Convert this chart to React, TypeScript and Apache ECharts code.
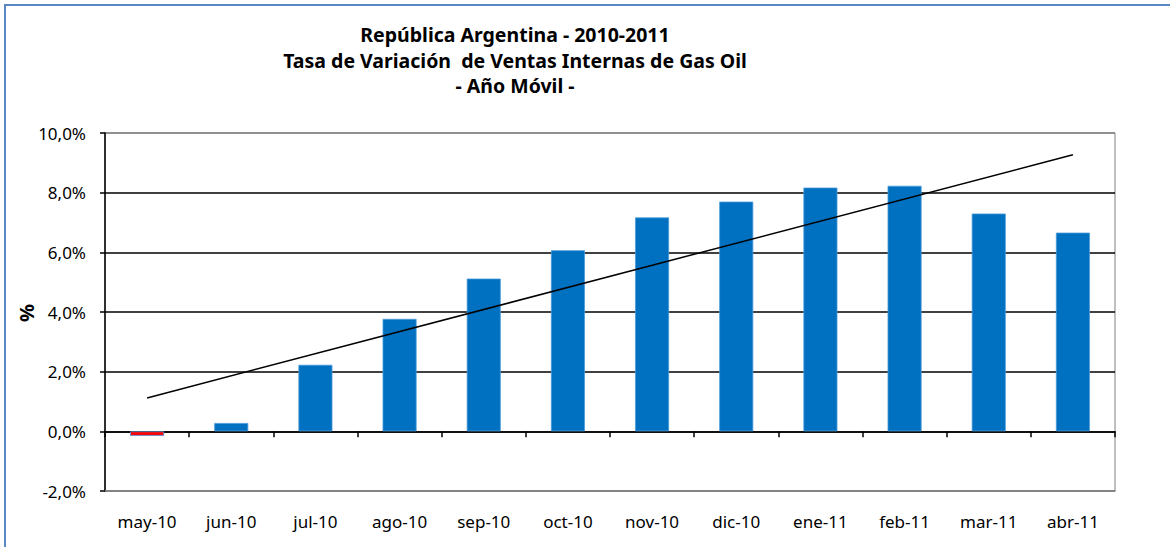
import React, { useEffect, useRef } from "react";
import * as echarts from "echarts";

const categories = ["may-10", "jun-10", "jul-10", "ago-10", "sep-10", "oct-10", "nov-10", "dic-10", "ene-11", "feb-11", "mar-11", "abr-11"];
const values = [-0.15, 0.28, 2.23, 3.77, 5.12, 6.07, 7.17, 7.7, 8.17, 8.23, 7.3, 6.66];
const trendPoints: [number, number][] = [[0, 1.12], [11, 9.27]];
const titleLines = ["República Argentina - 2010-2011", "Tasa de Variación  de Ventas Internas de Gas Oil", "- Año Móvil -"];
const yAxisName = "%";

const FONT = "Noto Sans";

export default function App() {
  const ref = useRef<HTMLDivElement>(null);
  useEffect(() => {
    if (!ref.current) return;
    const chart = echarts.init(ref.current, undefined, { renderer: "svg" });
    chart.setOption({
      animation: false,
      backgroundColor: "#ffffff",
      title: {
        text: titleLines.join("\n"),
        left: 510,
        top: 17,
        textAlign: "center",
        textStyle: { fontFamily: FONT, fontSize: 19.5, fontWeight: "bold", color: "#000", lineHeight: 25.5 },
      },
      graphic: [
        { type: "line", shape: { x1: 4, y1: 5, x2: 1170, y2: 5 }, style: { stroke: "#5B87C5", lineWidth: 2 } },
        { type: "line", shape: { x1: 5, y1: 4, x2: 5, y2: 547 }, style: { stroke: "#5B87C5", lineWidth: 2 } },
        {
          type: "text",
          x: 26,
          y: 313,
          rotation: Math.PI / 2,
          style: { text: yAxisName, fontFamily: FONT, fontSize: 20, fontWeight: "bold", fill: "#000", align: "center", verticalAlign: "middle" },
        },
      ],
      grid: { left: 105, right: 55, top: 133, bottom: 56, show: true, borderColor: "#808080", borderWidth: 1, backgroundColor: "transparent" },
      xAxis: [
        {
          type: "category",
          data: categories,
          position: "bottom",
          axisLine: { show: true, onZero: false, lineStyle: { color: "#808080", width: 1.5 } },
          axisTick: { show: false },
          axisLabel: { color: "#000", fontFamily: FONT, fontSize: 17, margin: 22 },
        },
        {
          type: "category",
          data: categories,
          position: "bottom",
          axisLine: { show: true, onZero: true, lineStyle: { color: "#000", width: 1.5 } },
          axisTick: { show: true, inside: false, length: 6, lineStyle: { color: "#000", width: 1.5 } },
          axisLabel: { show: false },
        },
      ],
      yAxis: {
        type: "value",
        min: -2,
        max: 10,
        interval: 2,
        axisLine: { show: true, lineStyle: { color: "#000", width: 1.5 } },
        axisTick: { show: true, length: 5, lineStyle: { color: "#000", width: 1.5 } },
        axisLabel: {
          color: "#000",
          fontFamily: FONT,
          fontSize: 17,
          margin: 19,
          formatter: (v: number) => v.toFixed(1).replace(".", ",") + "%",
        },
        splitLine: {
          show: true,
          lineStyle: { color: ["#808080", "#000", "#000", "#000", "#000", "#000", "#808080"], width: 1.5 },
        },
      },
      series: [
        {
          type: "bar",
          xAxisIndex: 0,
          data: values,
          barWidth: 34,
          itemStyle: {
            color: (p: any) => (p.value < 0 ? "#FF0000" : "#0070C0"),
            borderColor: "#4A9BD9",
            borderWidth: 0.8,
          },
        },
        {
          type: "line",
          xAxisIndex: 0,
          data: trendPoints,
          symbol: "none",
          lineStyle: { color: "#000", width: 1.5 },
          z: 5,
        },
      ],
    });
    return () => chart.dispose();
  }, []);
  return <div ref={ref} style={{ position: "absolute", left: 0, top: 0, width: 1170, height: 547 }} />;
}
